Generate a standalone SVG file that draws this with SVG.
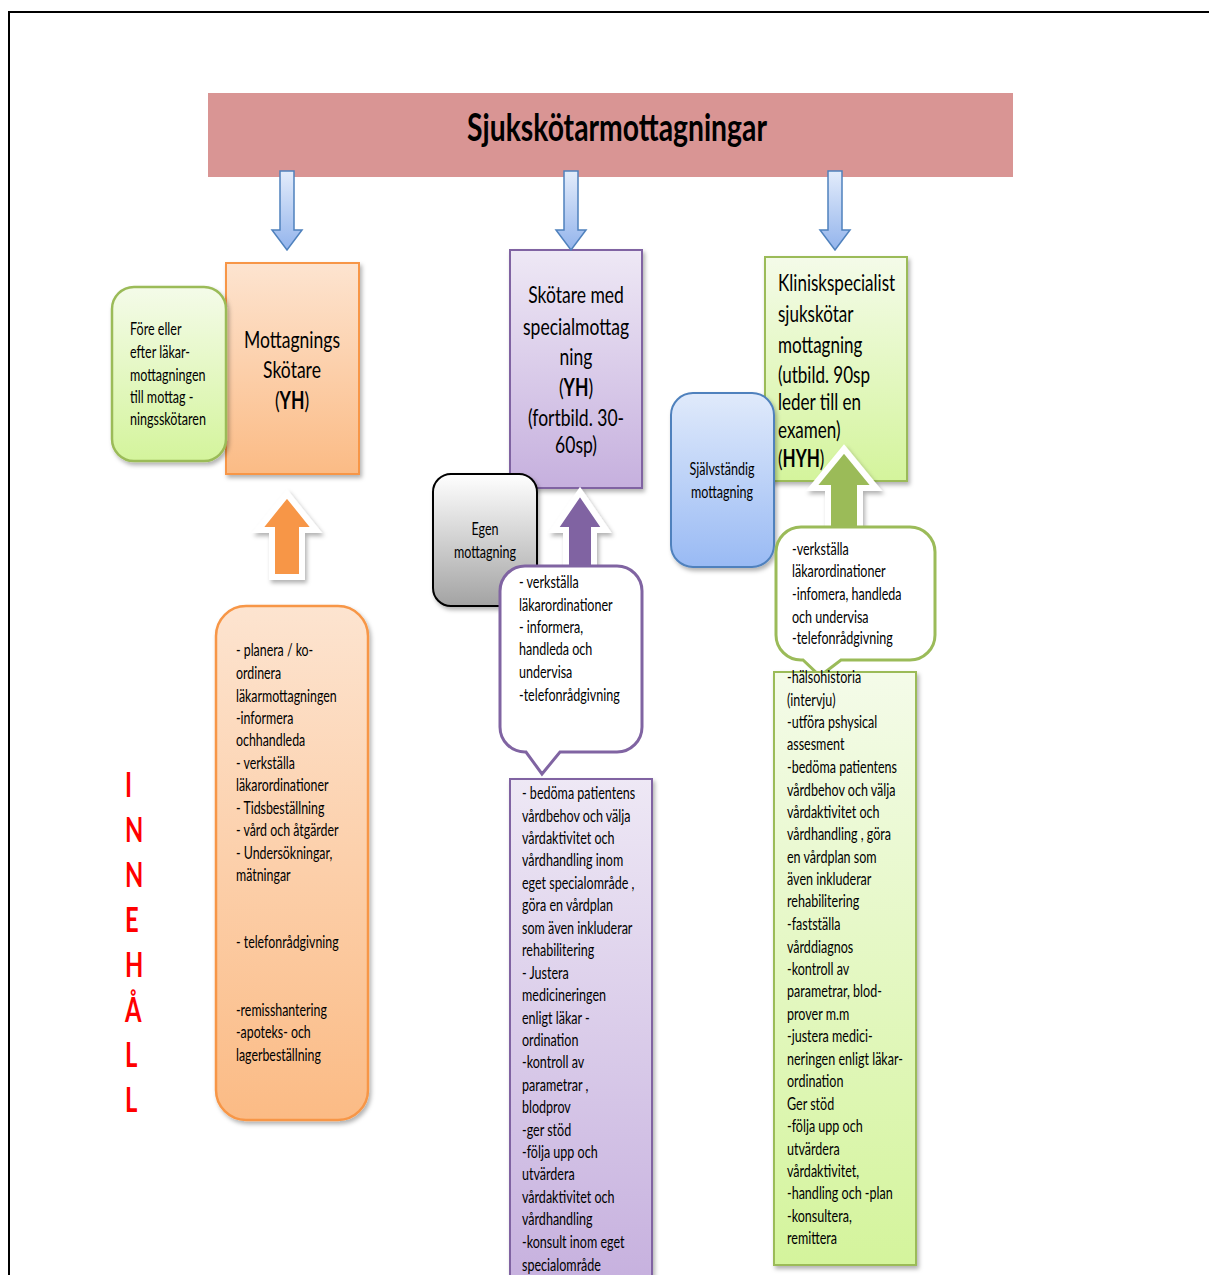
<svg xmlns="http://www.w3.org/2000/svg" width="1209" height="1275" viewBox="0 0 1209 1275">
<defs>
<linearGradient id="gOr" x1="0" y1="0" x2="0" y2="1"><stop offset="0" stop-color="#fde4d0"/><stop offset="1" stop-color="#fbbb85"/></linearGradient>
<linearGradient id="gPu" x1="0" y1="0" x2="0" y2="1"><stop offset="0" stop-color="#eee8f5"/><stop offset="1" stop-color="#c6b0de"/></linearGradient>
<linearGradient id="gGr" x1="0" y1="0" x2="0" y2="1"><stop offset="0" stop-color="#f4fbe9"/><stop offset="1" stop-color="#d4f49c"/></linearGradient>
<linearGradient id="gBl" x1="0" y1="0" x2="0" y2="1"><stop offset="0" stop-color="#e0eafb"/><stop offset="1" stop-color="#99baf4"/></linearGradient>
<linearGradient id="gGy" x1="0" y1="0" x2="0" y2="1"><stop offset="0" stop-color="#ffffff"/><stop offset="1" stop-color="#a3a3a3"/></linearGradient>
<linearGradient id="gAr" x1="0" y1="0" x2="0" y2="1"><stop offset="0" stop-color="#e3ecfb"/><stop offset="1" stop-color="#93b4ec"/></linearGradient>
<filter id="sh" x="-20%" y="-20%" width="140%" height="140%"><feDropShadow dx="2" dy="3" stdDeviation="2" flood-color="#000" flood-opacity="0.3"/></filter>
</defs>
<style>
text{font-family:"Lato","Open Sans",sans-serif;fill:#000}
.s{font-size:16.5px}
.b{font-size:24px}
.c{text-anchor:middle}
.t{font-size:38px;font-weight:bold}
.red{font-size:34px;font-weight:bold;fill:#ff0000}
.dn{fill:url(#gAr);stroke:#4f81bd;stroke-width:1.5}
.up{stroke:#fff;stroke-width:6;filter:url(#sh)}
</style>
<rect width="1209" height="1275" fill="#fff"/>
<path d="M9,1275 V12 H1209" fill="none" stroke="#000" stroke-width="2"/>

<g id="title">
<rect x="208" y="93" width="805" height="84" fill="#d99594"/>
<g transform="translate(617,0) scale(0.745,1)"><text class="t c" x="0" y="141">Sjukskötarmottagningar</text></g>
</g>

<g id="mottagningsskotare">
<rect x="226" y="263" width="133" height="211" fill="url(#gOr)" stroke="#f79646" stroke-width="2" filter="url(#sh)"/>
<g transform="translate(292,0) scale(0.73,1)" class="b">
<text class="b c" x="0" y="348">Mottagnings</text>
<text class="b c" x="0" y="378">Skötare</text>
<text class="b c" x="0" y="409">(<tspan font-weight="bold">YH</tspan>)</text>
</g>
</g>

<g id="fore-eller">
<rect x="112" y="287" width="114" height="174" rx="22" fill="url(#gGr)" stroke="#9bbb59" stroke-width="2.5" filter="url(#sh)"/>
<g transform="translate(130,0) scale(0.76,1)">
<text class="s" x="0" y="335">Före eller</text>
<text class="s" x="0" y="358">efter läkar-</text>
<text class="s" x="0" y="381">mottagningen</text>
<text class="s" x="0" y="403">till mottag -</text>
<text class="s" x="0" y="425">ningsskötaren</text>
</g>
</g>

<g id="specialmottagning">
<rect x="510" y="250" width="132" height="238" fill="url(#gPu)" stroke="#8064a2" stroke-width="2" filter="url(#sh)"/>
<g transform="translate(576,0) scale(0.73,1)">
<text class="b c" x="0" y="303">Skötare med</text>
<text class="b c" x="0" y="335">specialmottag</text>
<text class="b c" x="0" y="365">ning</text>
<text class="b c" x="0" y="396">(<tspan font-weight="bold">YH</tspan>)</text>
<text class="b c" x="0" y="426">(fortbild. 30-</text>
<text class="b c" x="0" y="453">60sp)</text>
</g>
</g>

<g id="egen-mottagning">
<rect x="433" y="474" width="104" height="132" rx="18" fill="url(#gGy)" stroke="#000" stroke-width="2" filter="url(#sh)"/>
<g transform="translate(485,0) scale(0.76,1)">
<text class="s c" x="0" y="535">Egen</text>
<text class="s c" x="0" y="558">mottagning</text>
</g>
</g>

<g id="klinisk">
<rect x="765" y="257" width="142" height="224" fill="url(#gGr)" stroke="#9bbb59" stroke-width="2" filter="url(#sh)"/>
<g transform="translate(778,0) scale(0.71,1)">
<text class="b" x="0" y="291">Kliniskspecialist</text>
<text class="b" x="0" y="322">sjukskötar</text>
<text class="b" x="0" y="353">mottagning</text>
<text class="b" x="0" y="383">(utbild. 90sp</text>
<text class="b" x="0" y="410">leder till en</text>
<text class="b" x="0" y="438">examen)</text>
<text class="b" x="0" y="467">(<tspan font-weight="bold">HYH</tspan>)</text>
</g>
</g>

<g id="sjalvstandig">
<rect x="671" y="393" width="103" height="174" rx="22" fill="url(#gBl)" stroke="#4f81bd" stroke-width="2" filter="url(#sh)"/>
<g transform="translate(722,0) scale(0.76,1)">
<text class="s c" x="0" y="475">Självständig</text>
<text class="s c" x="0" y="498">mottagning</text>
</g>
</g>

<g id="connectors">
<path class="dn" d="M280,171 H294 V230 H302 L287,250 L272,230 H280 Z"/>
<path class="dn" d="M564,171 H578 V230 H586 L571,250 L556,230 H564 Z"/>
<path class="dn" d="M828,171 H842 V230 H850 L835,250 L820,230 H828 Z"/>
<path class="up" fill="#f79646" d="M287,494 L316,530 H302 V577 H272 V530 H258 Z"/>
<path class="up" fill="#8064a2" d="M580,492 L606,530 H594 V570 H566 V530 H554 Z"/>
<path class="up" fill="#9bbb59" d="M844,449 L876,488 H860 V530 H828 V488 H812 Z"/>
</g>

<g id="innehall">
<g transform="translate(125,0) scale(0.7,1)">
<text class="red" x="0" y="797">I</text>
<text class="red" x="0" y="842">N</text>
<text class="red" x="0" y="887">N</text>
<text class="red" x="0" y="932">E</text>
<text class="red" x="0" y="977">H</text>
<text class="red" x="0" y="1022">Å</text>
<text class="red" x="0" y="1067">L</text>
<text class="red" x="0" y="1112">L</text>
</g>
</g>

<g id="orange-lista">
<rect x="216" y="606" width="152" height="514" rx="30" fill="url(#gOr)" stroke="#f79646" stroke-width="2.5" filter="url(#sh)"/>
<g transform="translate(236,0) scale(0.75,1)">
<text class="s" x="0" y="656">- planera / ko-</text>
<text class="s" x="0" y="679">ordinera</text>
<text class="s" x="0" y="702">läkarmottagningen</text>
<text class="s" x="0" y="724">-informera</text>
<text class="s" x="0" y="746">ochhandleda</text>
<text class="s" x="0" y="769">- verkställa</text>
<text class="s" x="0" y="791">läkarordinationer</text>
<text class="s" x="0" y="814">- Tidsbeställning</text>
<text class="s" x="0" y="836">- vård och åtgärder</text>
<text class="s" x="0" y="859">- Undersökningar,</text>
<text class="s" x="0" y="881">mätningar</text>
<text class="s" x="0" y="948">- telefonrådgivning</text>
<text class="s" x="0" y="1016">-remisshantering</text>
<text class="s" x="0" y="1038">-apoteks- och</text>
<text class="s" x="0" y="1061">lagerbeställning</text>
</g>
</g>

<g id="purple-callout">
<path d="M525,566 H617 A25,25 0 0 1 642,591 V727 A25,25 0 0 1 617,752 H560 L542,774 L526,752 H525 A25,25 0 0 1 500,727 V591 A25,25 0 0 1 525,566 Z" fill="#fff" stroke="#8064a2" stroke-width="3"/>
<g transform="translate(519,0) scale(0.76,1)">
<text class="s" x="0" y="588">- verkställa</text>
<text class="s" x="0" y="611">läkarordinationer</text>
<text class="s" x="0" y="633">- informera,</text>
<text class="s" x="0" y="655">handleda och</text>
<text class="s" x="0" y="678">undervisa</text>
<text class="s" x="0" y="701">-telefonrådgivning</text>
</g>
</g>

<g id="purple-lista">
<rect x="510" y="779" width="142" height="510" fill="url(#gPu)" stroke="#8064a2" stroke-width="2" filter="url(#sh)"/>
<g transform="translate(522,0) scale(0.76,1)">
<text class="s" x="0" y="799">- bedöma patientens</text>
<text class="s" x="0" y="822">vårdbehov  och välja</text>
<text class="s" x="0" y="844">vårdaktivitet och</text>
<text class="s" x="0" y="866">vårdhandling  inom</text>
<text class="s" x="0" y="889">eget specialområde  ,</text>
<text class="s" x="0" y="911">göra en vårdplan</text>
<text class="s" x="0" y="934">som även inkluderar</text>
<text class="s" x="0" y="956">rehabilitering</text>
<text class="s" x="0" y="979">- Justera</text>
<text class="s" x="0" y="1001">medicineringen</text>
<text class="s" x="0" y="1024">enligt läkar -</text>
<text class="s" x="0" y="1046">ordination</text>
<text class="s" x="0" y="1068">-kontroll  av</text>
<text class="s" x="0" y="1091">parametrar  ,</text>
<text class="s" x="0" y="1113">blodprov</text>
<text class="s" x="0" y="1136">-ger stöd</text>
<text class="s" x="0" y="1158">-följa upp  och</text>
<text class="s" x="0" y="1180">utvärdera</text>
<text class="s" x="0" y="1203">vårdaktivitet  och</text>
<text class="s" x="0" y="1225">vårdhandling</text>
<text class="s" x="0" y="1248">-konsult inom eget</text>
<text class="s" x="0" y="1271">specialområde</text>
</g>
</g>

<g id="green-callout">
<path d="M801,527 H910 A25,25 0 0 1 935,552 V635 A25,25 0 0 1 910,660 H841 L820,676 L803,660 H801 A25,25 0 0 1 776,635 V552 A25,25 0 0 1 801,527 Z" fill="#fff" stroke="#9bbb59" stroke-width="3"/>
<g transform="translate(792,0) scale(0.76,1)">
<text class="s" x="0" y="555">-verkställa</text>
<text class="s" x="0" y="577">läkarordinationer</text>
<text class="s" x="0" y="600">-infomera,  handleda</text>
<text class="s" x="0" y="623">och undervisa</text>
<text class="s" x="0" y="644">-telefonrådgivning</text>
</g>
</g>

<g id="green-lista">
<rect x="774" y="672" width="142" height="593" fill="url(#gGr)" stroke="#9bbb59" stroke-width="2" filter="url(#sh)"/>
<g transform="translate(787,0) scale(0.76,1)">
<text class="s" x="0" y="683">-hälsohistoria</text>
<text class="s" x="0" y="706">(intervju)</text>
<text class="s" x="0" y="728">-utföra pshysical</text>
<text class="s" x="0" y="750">assesment</text>
<text class="s" x="0" y="773">-bedöma  patientens</text>
<text class="s" x="0" y="796">vårdbehov   och välja</text>
<text class="s" x="0" y="818">vårdaktivitet och</text>
<text class="s" x="0" y="840">vårdhandling  , göra</text>
<text class="s" x="0" y="863">en vårdplan  som</text>
<text class="s" x="0" y="885">även inkluderar</text>
<text class="s" x="0" y="907">rehabilitering</text>
<text class="s" x="0" y="930">-fastställa</text>
<text class="s" x="0" y="953">vårddiagnos</text>
<text class="s" x="0" y="975">-kontroll  av</text>
<text class="s" x="0" y="997">parametrar,  blod-</text>
<text class="s" x="0" y="1020">prover   m.m</text>
<text class="s" x="0" y="1042">-justera medici-</text>
<text class="s" x="0" y="1065">neringen enligt läkar-</text>
<text class="s" x="0" y="1087">ordination</text>
<text class="s" x="0" y="1110">Ger stöd</text>
<text class="s" x="0" y="1132">-följa upp  och</text>
<text class="s" x="0" y="1155">utvärdera</text>
<text class="s" x="0" y="1177">vårdaktivitet,</text>
<text class="s" x="0" y="1199">-handling  och  -plan</text>
<text class="s" x="0" y="1222">-konsultera,</text>
<text class="s" x="0" y="1244">remittera</text>
</g>
</g>
</svg>
